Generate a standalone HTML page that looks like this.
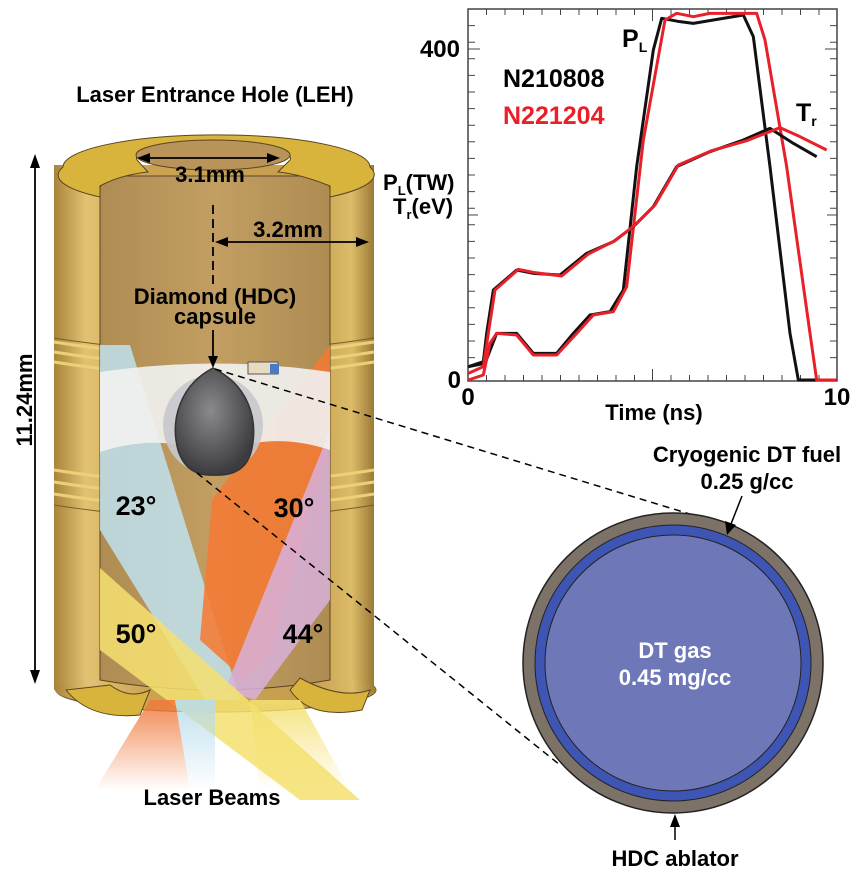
<!DOCTYPE html>
<html><head><meta charset="utf-8"><style>
html,body{margin:0;padding:0;background:#fff;}
svg{display:block;font-family:"Liberation Sans",Arial,sans-serif;font-weight:bold;}
</style></head><body>
<svg width="858" height="882" viewBox="0 0 858 882" xmlns="http://www.w3.org/2000/svg">
<defs>
<linearGradient id="body" x1="0" x2="1" y1="0" y2="0">
<stop offset="0" stop-color="#a8843a"/><stop offset="0.1" stop-color="#e2c272"/><stop offset="0.3" stop-color="#caa252"/><stop offset="0.8" stop-color="#c69e50"/><stop offset="0.93" stop-color="#dcbc68"/><stop offset="1" stop-color="#9c7a36"/>
</linearGradient>
<linearGradient id="inner" x1="0" x2="1" y1="0" y2="0">
<stop offset="0" stop-color="#ae8c52"/><stop offset="0.5" stop-color="#c29e62"/><stop offset="1" stop-color="#ae8c52"/>
</linearGradient>
<radialGradient id="cap" cx="0.45" cy="0.4" r="0.6">
<stop offset="0" stop-color="#8a8a8c"/><stop offset="1" stop-color="#3c3c40"/>
</radialGradient>
<linearGradient id="fadeO" x1="0" y1="0" x2="0" y2="1"><stop offset="0" stop-color="#f07a3c" stop-opacity="0.9"/><stop offset="1" stop-color="#f07a3c" stop-opacity="0"/></linearGradient>
<linearGradient id="fadeY" x1="0" y1="0" x2="0" y2="1"><stop offset="0" stop-color="#f4e070" stop-opacity="0.9"/><stop offset="1" stop-color="#f4e070" stop-opacity="0"/></linearGradient>
<linearGradient id="fadeB" x1="0" y1="0" x2="0" y2="1"><stop offset="0" stop-color="#b8dcec" stop-opacity="0.9"/><stop offset="1" stop-color="#b8dcec" stop-opacity="0"/></linearGradient>
</defs>

<!-- hohlraum body -->
<ellipse cx="216" cy="690" rx="160" ry="22" fill="#d4b040" stroke="#6a5020"/>
<rect x="54" y="165" width="320" height="525" fill="url(#body)"/>
<ellipse cx="215" cy="690" rx="160" ry="20" fill="url(#body)"/>
<!-- rings -->
<g stroke="#ecd078" stroke-width="3" fill="none">
<path d="M54 342 Q216 368 374 342"/><path d="M54 352 Q216 378 374 352"/><path d="M54 362 Q216 388 374 362"/>
<path d="M54 470 Q216 496 374 470"/><path d="M54 482 Q216 508 374 482"/><path d="M54 494 Q216 520 374 494"/>
</g>
<g stroke="#7a5c28" stroke-width="1" fill="none">
<path d="M54 338 Q216 364 374 338"/><path d="M54 505 Q216 531 374 505"/>
</g>
<!-- cutaway interior -->
<path d="M100 190 Q100 178 120 176 L310 176 Q330 178 330 190 L330 680 Q216 700 100 680 Z" fill="url(#inner)" stroke="#5a4520"/>
<!-- top cap -->
<path d="M63 167 A153 32 0 0 1 370 167 A153 32 0 0 1 330 197 L330 186 Q300 174 278 172 L290 160 A77 15 0 1 0 137 160 L148 172 Q120 175 100 186 L100 197 A153 32 0 0 1 63 167 Z" fill="#d8b43c" stroke="#5a4520"/>
<ellipse cx="213" cy="155" rx="77" ry="15" fill="#b8945a" stroke="#5a4520"/>
<!-- beams inside -->
<polygon points="100,345 130,345 240,700 205,700 100,530" fill="#bfe2ee" opacity="0.85"/>
<polygon points="330,345 330,440 272,650 245,680 200,640 212,500" fill="#f47a34" opacity="0.88"/>
<polygon points="330,430 330,600 255,700 225,690" fill="#d8b0dc" opacity="0.85"/>
<polygon points="100,568 100,650 300,800 360,800" fill="#f4e070" opacity="0.85"/>
<!-- white plane & capsule -->
<path d="M100 372 Q216 355 330 372 L330 450 Q270 430 215 455 Q160 432 100 452 Z" fill="#f2f2f2" opacity="0.9"/>
<circle cx="213" cy="425" r="50" fill="#c8c8cc" opacity="0.9"/>
<path d="M213 368 C180 385 170 420 178 450 C185 472 200 476 215 475 C232 476 248 470 252 448 C258 418 248 385 213 368 Z" fill="url(#cap)" stroke="#333" stroke-width="1.5"/>
<rect x="248" y="362" width="30" height="12" fill="#e8dcc0" stroke="#555"/>
<rect x="270" y="364" width="9" height="10" fill="#4a7ac0"/>
<!-- bottom caps -->
<path d="M66 690 Q90 720 140 715 L150 690 Q130 700 110 685 Z" fill="#d8b43c" stroke="#5a4520"/>
<path d="M290 690 Q310 720 362 710 L370 690 Q340 700 300 678 Z" fill="#d8b43c" stroke="#5a4520"/>
<!-- laser beams outside -->
<polygon points="150,700 175,700 190,790 95,790" fill="url(#fadeO)"/>
<polygon points="175,700 215,700 215,790 190,790" fill="url(#fadeB)"/>
<polygon points="250,700 300,700 350,790 260,790" fill="url(#fadeY)"/>
<text x="212" y="805" font-size="22" text-anchor="middle">Laser Beams</text>

<!-- labels hohlraum -->
<text x="215" y="102" font-size="22" text-anchor="middle">Laser Entrance Hole (LEH)</text>
<g stroke="#000" stroke-width="1.8" fill="none">
<line x1="145" y1="158" x2="272" y2="158"/>
<line x1="222" y1="242" x2="362" y2="242"/>
<line x1="213" y1="205" x2="213" y2="285" stroke-dasharray="9,5"/>
<line x1="213" y1="330" x2="213" y2="360"/>
<line x1="35" y1="162" x2="35" y2="676"/>
</g>
<g fill="#000">
<polygon points="137,158 150,153 150,163"/><polygon points="280,158 267,153 267,163"/>
<polygon points="215,242 228,237 228,247"/><polygon points="369,242 356,237 356,247"/>
<polygon points="213,368 208,356 218,356"/>
<polygon points="35,154 30,168 40,168"/><polygon points="35,684 30,670 40,670"/>
</g>
<text x="210" y="182" font-size="22" text-anchor="middle">3.1mm</text>
<text x="288" y="237" font-size="22" text-anchor="middle">3.2mm</text>
<text x="215" y="304" font-size="22" text-anchor="middle">Diamond (HDC)</text>
<text x="215" y="324" font-size="22" text-anchor="middle">capsule</text>
<text transform="translate(32,400) rotate(-90)" font-size="22" text-anchor="middle">11.24mm</text>
<text x="136" y="515" font-size="27" text-anchor="middle">23°</text>
<text x="294" y="517" font-size="27" text-anchor="middle">30°</text>
<text x="136" y="643" font-size="27" text-anchor="middle">50°</text>
<text x="303" y="643" font-size="27" text-anchor="middle">44°</text>

<!-- dashed connectors -->
<g stroke="#000" stroke-width="1.5" stroke-dasharray="7,5" fill="none">
<line x1="215" y1="369" x2="693" y2="515"/>
<line x1="197" y1="473" x2="560" y2="765"/>
</g>

<!-- capsule cross-section -->
<circle cx="673" cy="663" r="150" fill="#7c7268" stroke="#222" stroke-width="1.5"/>
<circle cx="673" cy="663" r="138" fill="#3f55b4" stroke="#222" stroke-width="1"/>
<circle cx="673" cy="663" r="128" fill="#6e78b8" stroke="#222" stroke-width="1"/>
<text x="675" y="658" font-size="22" text-anchor="middle" fill="#fff">DT gas</text>
<text x="675" y="685" font-size="22" text-anchor="middle" fill="#fff">0.45 mg/cc</text>
<text x="747" y="462" font-size="22" text-anchor="middle">Cryogenic DT fuel</text>
<text x="747" y="489" font-size="22" text-anchor="middle">0.25 g/cc</text>
<line x1="742" y1="496" x2="731" y2="524" stroke="#000" stroke-width="1.5"/>
<polygon points="727,535 725,521 736,525" fill="#000"/>
<line x1="675" y1="840" x2="675" y2="826" stroke="#000" stroke-width="1.5"/>
<polygon points="675,814 670,827 680,827" fill="#000"/>
<text x="675" y="866" font-size="22" text-anchor="middle">HDC ablator</text>

<!-- plot -->
<rect x="468" y="9" width="369" height="372" fill="none" stroke="#444" stroke-width="1.5"/>
<g stroke="#444" stroke-width="1">
<path d="M468 25.6h7M468 42.2h7M468 58.8h7M468 75.4h7M468 92h7M468 108.6h7M468 125.2h7M468 141.8h7M468 158.4h7M468 175h7M468 191.6h7M468 208.2h7M468 224.8h7M468 241.4h7M468 258h7M468 274.6h7M468 291.2h7M468 307.8h7M468 324.4h7M468 341h7M468 357.6h7"/>
<path d="M837 25.6h-7M837 42.2h-7M837 58.8h-7M837 75.4h-7M837 92h-7M837 108.6h-7M837 125.2h-7M837 141.8h-7M837 158.4h-7M837 175h-7M837 191.6h-7M837 208.2h-7M837 224.8h-7M837 241.4h-7M837 258h-7M837 274.6h-7M837 291.2h-7M837 307.8h-7M837 324.4h-7M837 341h-7M837 357.6h-7"/>
<path d="M486.5 381v-6M505 381v-6M523.5 381v-6M542 381v-6M560.5 381v-6M579 381v-6M597.5 381v-6M616 381v-6M634.5 381v-6M652.5 381v-12M671 381v-6M689.5 381v-6M708 381v-6M726.5 381v-6M745 381v-6M763.5 381v-6M782 381v-6M800.5 381v-6M819 381v-6"/>
<path d="M486.5 9v6M505 9v6M523.5 9v6M542 9v6M560.5 9v6M579 9v6M597.5 9v6M616 9v6M634.5 9v6M652.5 9v12M671 9v6M689.5 9v6M708 9v6M726.5 9v6M745 9v6M763.5 9v6M782 9v6M800.5 9v6M819 9v6"/>
<path d="M468 49h12M837 49h-12M468 215h10M837 215h-10"/>
</g>
<g transform="translate(360,0) scale(0.33333)" fill="none" stroke-width="9" stroke-linejoin="round">
<polyline stroke="#111" points="325,1100 375,1090 410,1000 470,1000 520,1060 590,1060 640,1000 690,945 750,935 790,870 830,500 880,150 905,55 960,65 1000,70 1060,60 1150,45 1180,110 1230,500 1290,1000 1315,1140 1430,1140"/>
<polyline stroke="#e8202a" points="325,1140 370,1125 390,1030 410,1000 470,1005 520,1065 590,1065 650,1000 700,945 760,935 800,860 850,420 915,60 950,40 1000,50 1050,40 1190,40 1215,120 1280,500 1350,1000 1370,1140 1430,1140"/>
<polyline stroke="#111" points="325,1100 370,1085 380,1000 400,870 470,810 520,820 600,825 680,760 760,725 820,680 880,620 950,500 1050,455 1150,420 1230,385 1300,430 1370,470"/>
<polyline stroke="#e8202a" points="325,1120 370,1100 385,1000 405,870 475,808 525,818 605,828 685,762 765,722 825,675 885,615 955,495 1055,452 1160,422 1260,383 1320,410 1400,450"/>
</g>
<text x="460" y="57" font-size="24" text-anchor="end">400</text>
<text x="461" y="388" font-size="24" text-anchor="end">0</text>
<text x="468" y="405" font-size="24" text-anchor="middle">0</text>
<text x="837" y="405" font-size="24" text-anchor="middle">10</text>
<text x="654" y="420" font-size="22" text-anchor="middle">Time (ns)</text>
<text x="503" y="87" font-size="25">N210808</text>
<text x="503" y="124" font-size="25" fill="#e8202a">N221204</text>
<text x="383" y="190" font-size="22">P<tspan font-size="13" dy="5">L</tspan><tspan dy="-5">(TW)</tspan></text>
<text x="393" y="214" font-size="22">T<tspan font-size="13" dy="5">r</tspan><tspan dy="-5">(eV)</tspan></text>
<text x="622" y="47" font-size="25">P<tspan font-size="14" dy="5">L</tspan></text>
<text x="796" y="121" font-size="25">T<tspan font-size="14" dy="5">r</tspan></text>
</svg>
</body></html>
